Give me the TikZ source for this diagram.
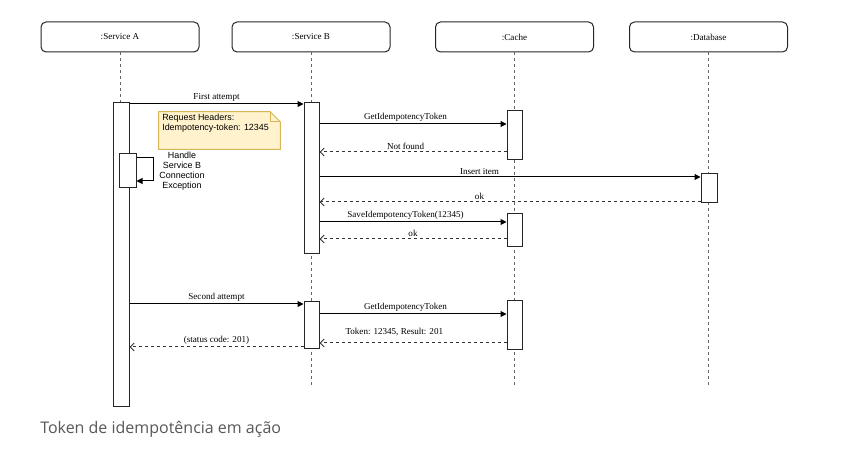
\documentclass[tikz,border=0pt]{standalone}
\usepackage{fontspec}
\setmainfont{Liberation Serif}
\newfontfamily\labelsans{Liberation Sans}
\newfontfamily\capfont{Open Sans}
\usetikzlibrary{arrows.meta,fit}
\definecolor{notefill}{HTML}{FFF2CC}
\definecolor{noteline}{HTML}{D6B656}
\definecolor{capgray}{RGB}{88,88,88}
\begin{document}
\begin{tikzpicture}[x=0.75pt,y=-0.75pt,
  hdr/.style={draw=black!85, rounded corners=3.75pt, line width=0.75pt, minimum width=118.5pt, minimum height=22.5pt, inner sep=0, font=\fontsize{6.8pt}{8pt}\selectfont},
  act/.style={draw=black!85, fill=white, line width=0.75pt, inner sep=0},
  life/.style={draw=black!60, line width=0.75pt, dash pattern=on 2.25pt off 2.25pt},
  msg/.style={draw=black, line width=0.75pt, -{Triangle[length=4.5pt,width=4.5pt]}},
  ret/.style={draw=black!80, line width=0.75pt, dash pattern=on 2.25pt off 2.25pt, -{Straight Barb[length=3pt,width=6pt]}},
  lbl/.style={font=\fontsize{6.8pt}{8pt}\selectfont, inner sep=1.5pt, above},
  notestyle/.style={draw=noteline, fill=notefill, line width=0.75pt},
  sanstxt/.style={font=\labelsans\fontsize{6.7pt}{7.5pt}\selectfont, inner sep=0}
]
\fill[white] (0,0) rectangle (857,452);
\useasboundingbox (0,0) rectangle (857,452);

% headers
\node[hdr] (hA) at (120,37) {:Service A};
\node[hdr] (hB) at (311,37) {:Service B};
\node[hdr] (hC) at (514.5,37) {:Cache};
\node[hdr] (hD) at (708.5,37) {:Database};

% lifelines
\coordinate (endA) at (120,406);
\coordinate (endL) at (0,385);
\draw[life] (hA.south) -- (endA);
\draw[life] (hB.south) -- (hB.south |- endL);
\draw[life] (hC.south) -- (hC.south |- endL);
\draw[life] (hD.south) -- (hD.south |- endL);

% activations
\node[act, fit={(113,103) (129,406)}] (aA) {};
\node[act, fit={(119,154) (136,188)}] (aS) {};
\node[act, fit={(304,103) (319,254)}] (aB1) {};
\node[act, fit={(304,302) (319,349)}] (aB2) {};
\node[act, fit={(507,111) (522,160)}] (aC1) {};
\node[act, fit={(507,214) (522,247)}] (aC2) {};
\node[act, fit={(507,301) (522,350)}] (aC3) {};
\node[act, fit={(701,174) (717,203)}] (aD) {};

% message levels
\coordinate (m1) at (0,104);
\coordinate (m2) at (0,124);
\coordinate (m3) at (0,152);
\coordinate (m4) at (0,177);
\coordinate (m5) at (0,202);
\coordinate (m6) at (0,222);
\coordinate (m7) at (0,239);
\coordinate (m8) at (0,304);
\coordinate (m9) at (0,314);
\coordinate (m10) at (0,343);
\coordinate (m11) at (0,347);
\coordinate (s1) at (0,158);
\coordinate (s2) at (0,181);

\draw[msg] (aA.east |- m1) -- node[lbl]{First attempt} (aB1.west |- m1);
\draw[msg] (aB1.east |- m2) -- node[lbl,pos=0.46]{GetIdempotencyToken} (aC1.west |- m2);
\draw[ret] (aC1.west |- m3) -- node[lbl,pos=0.54]{Not found} (aB1.east |- m3);
\draw[msg] (aB1.east |- m4) -- node[lbl,pos=0.42]{Insert item} (aD.west |- m4);
\draw[ret] (aD.west |- m5) -- node[lbl,pos=0.58]{ok} (aB1.east |- m5);
\draw[msg] (aB1.east |- m6) -- node[lbl,pos=0.46]{SaveIdempotencyToken(12345)} (aC2.west |- m6);
\draw[ret] (aC2.west |- m7) -- node[lbl]{ok} (aB1.east |- m7);
\draw[msg] (aA.east |- m8) -- node[lbl]{Second attempt} (aB2.west |- m8);
\draw[msg] (aB2.east |- m9) -- node[lbl,pos=0.46]{GetIdempotencyToken} (aC3.west |- m9);
\draw[ret] (aC3.west |- m10) -- node[lbl,pos=0.6,yshift=3.75pt]{Token: 12345, Result: 201} (aB2.east |- m10);
\draw[ret] (aB2.west |- m11) -- node[lbl]{(status code: 201)} (aA.east |- m11);

% self call
\draw[msg] (aS.east |- s1) -- ++(17,0) |- (aS.east |- s2);
\node[sanstxt, align=center] (selflbl) at (182,171) {Handle\\Service B\\Connection\\Exception};

% note
\node[fit={(159,112) (280,149)}, inner sep=0] (note) {};
\draw[notestyle] (note.north west) -- ([xshift=-7.5pt]note.north east) -- ([yshift=-7.5pt]note.north east) -- (note.south east) -- (note.south west) -- cycle;
\draw[draw=noteline, line width=0.75pt] ([xshift=-7.5pt]note.north east) -- ([xshift=-7.5pt,yshift=-7.5pt]note.north east) -- ([yshift=-7.5pt]note.north east);
\node[sanstxt, anchor=north west, align=left] (notetxt) at (162,114) {Request Headers:\\Idempotency-token: 12345};

% caption
\node[anchor=base west, inner sep=0, font=\capfont\fontsize{12pt}{14pt}\selectfont, text=capgray] (cap) at (40,433) {Token de idempotência em ação};
\end{tikzpicture}
\end{document}
